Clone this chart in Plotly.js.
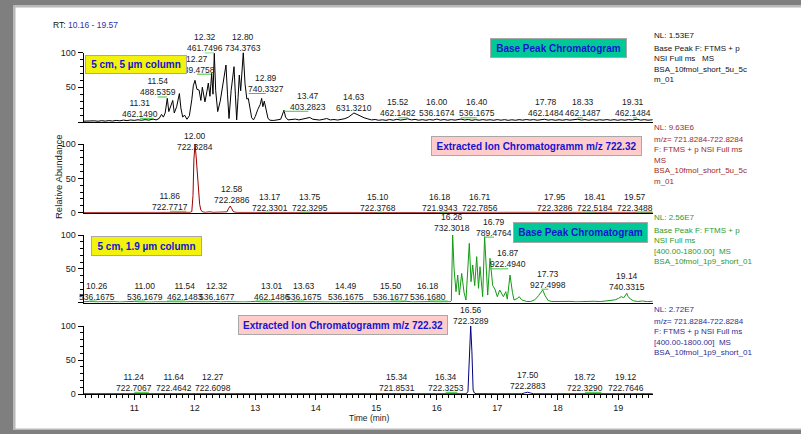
<!DOCTYPE html>
<html>
<head>
<meta charset="utf-8">
<script src="https://cdn.plot.ly/plotly-3.0.1.min.js"></script>
<style>
  html, body { margin: 0; padding: 0; background: #ffffff; overflow: hidden; }
  #chart { width: 801px; height: 434px; }
</style>
</head>
<body>
<div id="chart"></div>
<script>
// ---------------- chromatogram data (time in min, relative abundance in %) ----------------

// Base peak chromatogram, 5 cm / 5 µm column
const bpc5Time = [10.16,10.22,10.28,10.34,10.40,10.46,10.52,10.58,10.64,10.70,10.76,10.82,10.88,10.94,11.00,11.06,11.12,11.18,11.24,11.31,
  11.36,11.41,11.45,11.48,11.51,11.545,11.57,11.60,11.635,11.66,11.70,11.745,11.77,11.80,11.83,11.87,11.91,11.95,11.975,12.003,
  12.035,12.07,12.10,12.124,12.15,12.168,12.20,12.223,12.25,12.279,12.30,12.322,12.345,12.378,12.42,12.47,12.515,12.54,12.565,12.60,
  12.648,12.67,12.692,12.715,12.735,12.758,12.78,12.801,12.83,12.86,12.884,12.91,12.94,12.97,13.00,13.04,13.08,13.105,13.125,13.148,
  13.18,13.21,13.243,13.30,13.36,13.42,13.474,13.50,13.54,13.60,13.66,13.72,13.78,13.84,13.90,13.95,14.00,14.06,14.12,14.18,
  14.24,14.30,14.36,14.42,14.48,14.54,14.59,14.63,14.68,14.74,14.80,14.86,14.92,14.98,15.04,15.10,15.16,15.22,15.28,15.34,
  15.40,15.46,15.52,15.58,15.64,15.70,15.76,15.82,15.88,15.94,16.00,16.06,16.12,16.18,16.24,16.30,16.36,16.40,16.46,16.52,
  16.58,16.64,16.70,16.76,16.82,16.88,16.94,17.00,17.06,17.12,17.18,17.24,17.30,17.36,17.42,17.48,17.54,17.60,17.66,17.72,
  17.78,17.84,17.90,17.96,18.02,18.08,18.14,18.20,18.26,18.33,18.39,18.45,18.51,18.57,18.63,18.69,18.75,18.81,18.87,18.93,
  18.99,19.05,19.11,19.17,19.23,19.31,19.37,19.43,19.49,19.57];
const bpc5Abund = [1.2,1.6,1.0,1.7,1.1,1.9,1.3,2.0,1.4,2.3,1.7,2.7,2.0,2.9,2.3,3.2,2.5,3.4,2.7,4.2,
  3.0,5.0,11.0,7.0,13.0,34.0,15.0,24.0,31.0,13.0,22.0,41.0,20.0,7.0,10.0,4.0,9.0,32.0,52.0,60.0,
  47.0,46.0,31.0,50.0,40.0,29.0,44.0,56.0,37.0,70.0,40.0,98.8,45.0,15.0,30.0,55.0,82.0,40.0,5.0,45.0,
  79.6,40.0,3.0,35.0,67.6,45.0,72.0,99.7,55.0,33.0,34.0,20.0,6.0,3.0,8.0,18.0,25.0,34.0,22.0,30.0,
  15.0,5.0,2.5,2.2,3.0,4.0,17.0,7.0,3.0,3.6,4.2,3.0,4.0,6.0,6.5,4.0,3.4,2.8,3.8,5.0,
  3.0,3.6,2.8,3.8,4.8,7.0,10.5,13.0,11.0,8.0,6.0,4.5,3.0,3.6,2.5,3.2,2.4,3.6,2.6,3.9,
  2.8,3.5,4.6,3.0,3.8,2.6,3.4,2.5,3.5,2.8,4.2,2.7,3.6,2.6,3.4,2.7,3.5,4.2,2.9,3.6,
  2.5,3.4,2.6,3.5,2.7,3.3,2.5,3.5,2.6,3.4,2.4,3.2,2.5,3.4,2.7,3.6,2.8,3.5,2.6,3.3,
  3.9,2.7,3.4,2.5,3.3,2.6,3.5,2.7,3.2,4.0,2.8,3.5,2.6,3.4,2.5,3.3,2.7,3.5,2.6,3.4,
  2.5,3.3,2.6,3.5,2.8,4.0,2.7,3.4,2.6,3.2];

// Extracted ion chromatogram m/z 722.32, 5 cm / 5 µm column
const xic5Time = [10.16,10.60,11.00,11.40,11.80,11.86,11.92,11.95,11.97,11.985,12.003,12.02,12.04,12.06,12.08,12.10,12.13,12.18,12.25,12.30,
  12.40,12.50,12.53,12.56,12.585,12.61,12.64,12.70,13.00,13.17,13.40,13.75,14.20,14.70,15.10,15.50,16.00,16.18,16.50,16.71,
  17.20,17.95,18.41,18.90,19.57];
const xic5Abund = [0.3,0.3,0.4,0.3,0.5,0.7,0.5,1.5,25,78,100,84,60,30,12,4,1.0,0.6,1.3,0.5,
  0.4,0.5,1.2,6.5,9.7,6.0,1.2,0.4,0.3,0.6,0.3,0.5,0.3,0.3,0.6,0.3,0.3,0.5,0.3,0.5,
  0.3,0.5,0.5,0.3,0.5];

// Base peak chromatogram, 5 cm / 1.9 µm column
const bpc19Time = [10.16,10.26,10.36,10.46,10.56,10.66,10.76,10.86,10.96,11.00,11.08,11.18,11.28,11.38,11.46,11.54,11.62,11.72,11.82,11.92,
  12.02,12.12,12.22,12.32,12.42,12.52,12.62,12.72,12.82,12.92,13.01,13.10,13.20,13.30,13.40,13.50,13.63,13.72,13.82,13.92,
  14.02,14.12,14.22,14.32,14.42,14.49,14.58,14.68,14.78,14.88,14.98,15.08,15.18,15.28,15.38,15.50,15.60,15.70,15.80,15.90,
  16.00,16.10,16.18,16.22,16.24,16.25,16.262,16.285,16.317,16.345,16.372,16.411,16.45,16.482,16.51,16.537,16.565,16.593,16.626,16.659,
  16.689,16.714,16.758,16.79,16.841,16.879,16.924,16.96,17.00,17.04,17.10,17.14,17.165,17.21,17.25,17.276,17.33,17.363,17.40,17.486,
  17.55,17.62,17.68,17.75,17.79,17.84,17.90,18.00,18.10,18.20,18.30,18.40,18.50,18.60,18.70,18.80,18.88,18.95,19.00,19.05,
  19.09,19.12,19.14,19.16,19.20,19.25,19.32,19.40,19.48,19.57];
const bpc19Abund = [1.0,1.8,0.9,1.4,0.8,1.3,0.7,1.2,0.9,1.7,0.8,1.3,0.7,1.1,0.9,1.8,0.8,1.2,0.7,1.3,
  0.8,1.1,0.9,1.7,0.8,1.2,0.7,1.1,0.8,1.2,1.8,0.8,1.2,0.7,1.1,0.8,1.7,0.9,1.2,0.7,
  1.1,0.8,1.3,0.7,1.0,1.6,0.8,1.2,0.7,1.1,0.8,1.2,0.7,1.1,0.9,1.7,0.8,1.2,0.9,1.3,
  0.8,1.1,1.6,1.0,2.5,40,100,50,16,40.7,11,43,15,3.7,40,87.7,30.8,55.6,25,67.9,
  21,53,8.6,97.5,11,65.4,25,20,8.6,18.5,8.6,16,5,40.7,15,3.7,6,8.6,4,1.5,
  1.5,4,10,18.5,10,3,1.4,1.8,1.1,1.6,1.0,1.5,1.2,1.8,1.3,2.0,2.8,4,6,8.6,
  7,10,13.6,9,5,2.5,1.5,2.2,1.3,1.8];

// Extracted ion chromatogram m/z 722.32, 5 cm / 1.9 µm column
const xic19Time = [10.16,11.24,11.64,12.27,13.00,14.00,15.34,16.00,16.34,16.49,16.515,16.54,16.56,16.58,16.60,16.62,16.65,17.00,17.40,17.45,
  17.50,17.55,17.60,18.00,18.72,19.12,19.57];
const xic19Abund = [0.3,0.5,0.4,0.5,0.3,0.3,0.4,0.3,0.5,0.3,4,70,100,62,6,1.5,0.4,0.3,0.3,1.5,
  2.6,1.4,0.3,0.3,0.4,0.4,0.3];

// ---------------- labelled peaks: retention time (min) and base m/z ----------------
const bpc5PeakRt = [11.31,11.54,12.27,12.32,12.80,12.89,13.47,14.63,15.52,16.00,16.40,17.78,18.33,19.31];
const bpc5PeakMz = [462.1490,488.5359,739.4758,461.7496,734.3763,740.3327,403.2823,631.3210,462.1482,536.1674,536.1675,462.1484,462.1487,462.1484];

const xic5PeakRt = [12.00,11.86,12.58,13.17,13.75,15.10,16.18,16.71,17.95,18.41,19.57];
const xic5PeakMz = [722.3284,722.7717,722.2886,722.3301,722.3295,722.3768,721.9343,722.7856,722.3286,722.5184,722.3488];

const bpc19PeakRt = [10.26,11.00,11.54,12.32,13.01,13.63,14.49,15.50,16.18,16.26,16.79,16.87,17.73,19.14];
const bpc19PeakMz = [536.1675,536.1679,462.1483,536.1677,462.1486,536.1675,536.1675,536.1677,536.1680,732.3018,789.4764,922.4940,927.4998,740.3315];

const xic19PeakRt = [11.24,11.64,12.27,15.34,16.34,16.56,17.50,18.72,19.12];
const xic19PeakMz = [722.7067,722.4642,722.6098,721.8531,722.3253,722.3289,722.2883,722.3290,722.7646];

// ---------------- label placement (time, abundance level of the label centre) ----------------
const bpc5LabelAt = [[11.094,19.7],[11.386,50.4],[12.036,83.2],[12.16,114],[12.801,114],[13.172,55.4],[13.876,29.8],
  [14.636,27.8],[15.363,20.4],[15.998,20.4],[16.659,20.4],[17.801,20.4],[18.416,20.4],[19.243,20.4]];
const xic5LabelAt = [[12.003,104],[11.59,16.6],[12.61,25.8],[13.243,15.3],[13.904,15.3],[15.023,15.3],[16.053,15.3],
  [16.714,15.3],[17.953,15.3],[18.621,15.3],[19.276,15.3]];
const bpc19LabelAt = [[10.378,17],[11.177,17],[11.838,17],[12.372,17],[13.281,17],[13.81,17],[14.494,16],[15.243,17],
  [15.859,17],[16.246,117.8],[16.945,111.6],[17.181,64.7],[17.843,34.5],[19.139,31.4]];
const xic19LabelAt = [[11.0,17.2],[11.656,17.2],[12.305,17.2],[15.35,17.2],[16.147,17.2],[16.56,116],[17.512,19.4],
  [18.449,17.2],[19.127,17.2]];

// ---------------- page geometry ----------------
const W = 801, H = 434;
const px = v => v / W;          // page x pixel -> paper fraction
const py = v => 1 - v / H;      // page y pixel -> paper fraction
const RT_RANGE = [10.16, 19.57];
const X_DOMAIN = [px(83.5), px(652.8)];
const Y_DOMAINS = [[py(122), py(52.5)], [py(212.7), py(144)], [py(302.5), py(235)], [py(394), py(326)]];

const FONT = 'Arial, "Liberation Sans", Helvetica, sans-serif';

const panels = [
  { time: bpc5Time, abund: bpc5Abund, rt: bpc5PeakRt, mz: bpc5PeakMz, at: bpc5LabelAt, color: '#000000', zeroLabel: false },
  { time: xic5Time, abund: xic5Abund, rt: xic5PeakRt, mz: xic5PeakMz, at: xic5LabelAt, color: '#990000', zeroLabel: true },
  { time: bpc19Time, abund: bpc19Abund, rt: bpc19PeakRt, mz: bpc19PeakMz, at: bpc19LabelAt, color: '#129a12', zeroLabel: false },
  { time: xic19Time, abund: xic19Abund, rt: xic19PeakRt, mz: xic19PeakMz, at: xic19LabelAt, color: '#000080', zeroLabel: true }
];

const traces = [];
const annotations = [];
const shapes = [];
const layout = {
  width: W, height: H,
  margin: { l: 0, r: 0, t: 0, b: 0, pad: 0 },
  paper_bgcolor: '#ffffff',
  plot_bgcolor: 'rgba(0,0,0,0)',
  showlegend: false,
  hovermode: false,
  font: { family: FONT, size: 9, color: '#1a1a1a' }
};

panels.forEach((p, i) => {
  const n = i + 1;
  const xid = n === 1 ? 'x' : 'x' + n;
  const yid = n === 1 ? 'y' : 'y' + n;
  const last = n === 4;

  traces.push({
    type: 'scatter', mode: 'lines',
    x: p.time, y: p.abund,
    xaxis: xid, yaxis: yid,
    line: { color: p.color, width: 1, shape: 'linear' },
    hoverinfo: 'skip'
  });

  layout['xaxis' + (n === 1 ? '' : n)] = {
    domain: X_DOMAIN, range: RT_RANGE, anchor: yid,
    showline: true, linecolor: '#000', linewidth: 1,
    showgrid: false, zeroline: false,
    ticks: last ? 'outside' : '', ticklen: 5, tickwidth: 1, tickcolor: '#000',
    showticklabels: last, tick0: 0, dtick: 1,
    tickfont: { family: FONT, size: 9, color: '#1a1a1a' },
    minor: last ? { ticks: 'outside', tick0: 0, dtick: 0.1, ticklen: 3, tickcolor: '#000', tickwidth: 1, showgrid: false } : undefined,
    fixedrange: true
  };

  layout['yaxis' + (n === 1 ? '' : n)] = {
    domain: Y_DOMAINS[i], range: [0, 100], anchor: xid,
    showline: true, linecolor: '#000', linewidth: 1,
    showgrid: false, zeroline: false,
    tickmode: 'array', tickvals: [0, 50, 100],
    ticktext: [p.zeroLabel ? '0' : '', '50', '100'],
    ticks: 'outside', ticklen: 5, tickwidth: 1, tickcolor: '#000',
    tickfont: { family: FONT, size: 9, color: '#1a1a1a' },
    minor: { ticks: 'outside', tick0: 0, dtick: 10, ticklen: 3, tickcolor: '#000', tickwidth: 1, showgrid: false },
    fixedrange: true
  };

  const dom = Y_DOMAINS[i];
  p.rt.forEach((rt, j) => {
    const [lt, lv] = p.at[j];
    annotations.push({
      xref: xid, yref: 'paper',
      x: lt, y: dom[0] + lv / 100 * (dom[1] - dom[0]),
      xanchor: 'center', yanchor: 'middle',
      text: rt.toFixed(2) + '<br>' + p.mz[j].toFixed(4),
      showarrow: false, borderpad: 0,
      font: { family: FONT, size: 8.5, color: '#1a1a1a' }
    });
    // green leader from the label to its peak
    if (Math.abs(lt - rt) > 0.06) {
      shapes.push({
        type: 'line', xref: xid, yref: yid,
        x0: lt, x1: rt,
        ysizemode: 'pixel', yanchor: lv, y0: -10, y1: -10,
        line: { color: '#3cc83c', width: 1 }
      });
    }
  });
});

// coloured caption boxes
function box(text, x0, x1, y0, y1, bg) {
  annotations.push({
    xref: 'paper', yref: 'paper',
    x: px((x0 + x1) / 2), y: py((y0 + y1) / 2),
    xanchor: 'center', yanchor: 'middle',
    width: x1 - x0 - 2, height: y1 - y0 - 2,
    text: '<b>' + text + '</b>', showarrow: false,
    bgcolor: bg, bordercolor: '#a8a8a8', borderwidth: 1, borderpad: 0,
    font: { family: FONT, size: 10, color: '#1414d2' }
  });
}
box('5 cm, 5 µm column', 85, 187, 55, 74, '#f2f20c');
box('Base Peak Chromatogram', 490, 627, 38, 58, '#00c896');
box('Extracted Ion Chromatogramm m/z 722.32', 431, 642, 136, 156, '#ffcccc');
box('5 cm, 1.9 µm column', 91, 202, 236, 256, '#f2f20c');
box('Base Peak Chromatogram', 513, 648, 222, 243, '#00c896');
box('Extracted Ion Chromatogramm m/z 722.32', 238, 448, 315, 335, '#ffcccc');

// instrument / file information at the right of each trace
const NB = '\u00a0';
function info(text, yCenter, color, size) {
  annotations.push({
    xref: 'paper', yref: 'paper', x: px(653), y: py(yCenter),
    xanchor: 'left', yanchor: 'middle', align: 'left',
    text: text, showarrow: false, borderpad: 0,
    font: { family: FONT, size: size || 8, color: color }
  });
}
info('NL: 1.53E7', 35, '#111111');
info('Base Peak F: FTMS + p<br>NSI Full ms' + NB + NB + ' MS<br>BSA_10fmol_short_5u_5c<br>m_01', 64, '#111111');
info('NL: 9.63E6', 127, '#a02a2a');
info('m/z= 721.8284-722.8284<br>F: FTMS + p NSI Full ms<br>MS<br>BSA_10fmol_short_5u_5c<br>m_01', 160.5, '#a02a2a');
info('NL: 2.56E7', 217.5, '#2e9a2e');
info('Base Peak F: FTMS + p<br>NSI Full ms<br>[400.00-1800.00]' + NB + NB + 'MS<br>BSA_10fmol_1p9_short_01', 245.5, '#2e9a2e');
info('NL: 2.72E7', 309, '#2e2e96');
info('m/z= 721.8284-722.8284<br>F: FTMS + p NSI Full ms<br>[400.00-1800.00]' + NB + NB + 'MS<br>BSA_10fmol_1p9_short_01', 336.5, '#2e2e96');

// header, axis titles
annotations.push({
  xref: 'paper', yref: 'paper', x: px(52), y: py(25), xanchor: 'left', yanchor: 'middle',
  text: 'RT: <span style="color:#3030b0">10.16 - 19.57</span>', showarrow: false, borderpad: 0,
  font: { family: FONT, size: 8.5, color: '#111111' }
});
annotations.push({
  xref: 'paper', yref: 'paper', x: px(59), y: py(177), xanchor: 'center', yanchor: 'middle',
  text: 'Relative Abundance', textangle: -90, showarrow: false, borderpad: 0,
  font: { family: FONT, size: 9.5, color: '#1a1a1a' }
});
annotations.push({
  xref: 'paper', yref: 'paper', x: px(369), y: py(418), xanchor: 'center', yanchor: 'middle',
  text: 'Time (min)', showarrow: false, borderpad: 0,
  font: { family: FONT, size: 8.5, color: '#1a1a1a' }
});

// grey window frame (left, top, bottom)
const frame = '#7f7f7f', frameEdge = '#b8b8b8';
shapes.push({ type: 'rect', xref: 'paper', yref: 'paper', x0: 0, x1: px(13.5), y0: 0, y1: 1, fillcolor: frame, line: { width: 0 }, layer: 'above' });
shapes.push({ type: 'rect', xref: 'paper', yref: 'paper', x0: 0, x1: 1, y0: py(5.5), y1: 1, fillcolor: frame, line: { width: 0 }, layer: 'above' });
shapes.push({ type: 'rect', xref: 'paper', yref: 'paper', x0: 0, x1: 1, y0: 0, y1: py(430), fillcolor: frame, line: { width: 0 }, layer: 'above' });
shapes.push({ type: 'rect', xref: 'paper', yref: 'paper', x0: px(13.5), x1: px(15.5), y0: py(430), y1: py(5.5), fillcolor: frameEdge, line: { width: 0 }, layer: 'above' });
shapes.push({ type: 'rect', xref: 'paper', yref: 'paper', x0: px(13.5), x1: 1, y0: py(7.5), y1: py(5.5), fillcolor: frameEdge, line: { width: 0 }, layer: 'above' });
shapes.push({ type: 'rect', xref: 'paper', yref: 'paper', x0: px(13.5), x1: 1, y0: py(430), y1: py(428.5), fillcolor: frameEdge, line: { width: 0 }, layer: 'above' });

layout.annotations = annotations;
layout.shapes = shapes;

Plotly.newPlot('chart', traces, layout, { staticPlot: true, displayModeBar: false });
</script>
</body>
</html>
